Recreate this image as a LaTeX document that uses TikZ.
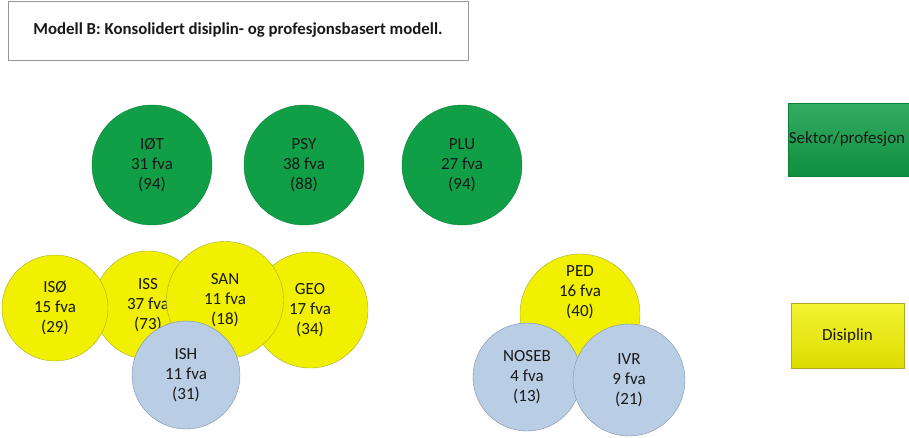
\documentclass[tikz,border=0pt]{standalone}
\usepackage{fontspec}
\setmainfont{Carlito}
\usetikzlibrary{positioning}

\definecolor{sektorgreen}{RGB}{16,158,70}
\definecolor{sektorline}{RGB}{14,128,58}
\definecolor{disyellow}{RGB}{240,240,0}
\definecolor{disline}{RGB}{170,170,40}
\definecolor{fagblue}{RGB}{185,205,229}
\definecolor{fagline}{RGB}{125,145,170}
\definecolor{textdark}{RGB}{25,25,25}

\begin{document}
\begin{tikzpicture}[x=1pt, y=-1pt]

% Define styles
\tikzset{
    unit/.style={circle, minimum size=#1, inner sep=0pt, align=center,
                 text=textdark, font=\fontsize{17}{20}\selectfont},
    sektor/.style={unit=120pt, fill=sektorgreen, draw=sektorline, thin},
    disiplin/.style={unit=#1, fill=disyellow, draw=disline, thin},
    fag/.style={unit=108pt, fill=fagblue, draw=fagline, thin},
    legendbox/.style={rectangle, text=textdark, font=\fontsize{17}{20}\selectfont}
}

% vis bare den delen som brukes
\useasboundingbox (0,0) rectangle (909,437);

% title
\node[draw={rgb,255:red,150;green,150;blue,150}, fill=white, minimum width=460pt,
      minimum height=59pt, font=\bfseries\fontsize{16.8}{20}\selectfont, text=textdark]
      (TITLE) at (238,30.5) {Modell B: Konsolidert disiplin- og profesjonsbasert modell.};

% sector / profession circles
\node[sektor] (IOT) at (152,165) {IØT\\31 fva\\(94)};
\node[sektor] (PSY) at (304,165) {PSY\\38 fva\\(88)};
\node[sektor] (PLU) at (462,165) {PLU\\27 fva\\(94)};


% left cluster of disciplines
\node[disiplin=108pt] (ISS) at (148,305) {ISS\\37 fva\\(73)};
\node[disiplin=106pt] (ISO) at (55,308) {ISØ\\15 fva\\(29)};
\node[disiplin=116pt] (GEO) at (310,310) {GEO\\17 fva\\(34)};
\node[disiplin=117pt] (SAN) at (225,300) {SAN\\11 fva\\(18)};
\node[fag] (ISH) at (186,375) {ISH\\11 fva\\(31)};


% right cluster
\node[disiplin=120pt, text depth=46pt] (PED) at (580,314) {PED\\16 fva\\(40)};
\node[fag] (NOSEB) at (527,377) {NOSEB\\4 fva\\(13)};
\node[fag, minimum size=112pt] (IVR) at (629,380) {IVR\\9 fva\\(21)};


% legend
\node[legendbox, minimum width=150pt, minimum height=73pt, draw=sektorline,
      top color=sektorgreen!85!white, bottom color=sektorgreen!90!black]
      (SEKTOR) at (863,139.5) {};
\node[legendbox, anchor=center] (SEKTORtxt) at (847,139.5) {Sektor/profesjon};

\node[legendbox, minimum width=113pt, minimum height=65pt, draw=disline,
      top color=disyellow!80!white, bottom color=disyellow!92!black]
      (DIS) at (847.5,335.5) {Disiplin};

\end{tikzpicture}
\end{document}
